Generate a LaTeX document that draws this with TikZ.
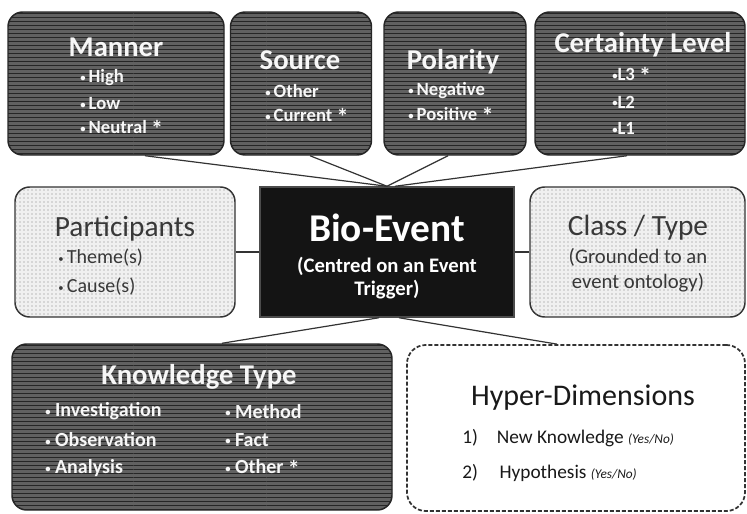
\documentclass[tikz,border=0pt]{standalone}
\usepackage{fontspec}
\setmainfont{Carlito}
\usetikzlibrary{patterns,calc}

\newcommand\starsign{\raisebox{-0.4ex}{\fontsize{18}{18}\selectfont *}}
\newcommand\smallbullet{\raisebox{0.15ex}{\fontsize{8}{8}\selectfont\textbullet}}

\begin{document}
\begin{tikzpicture}[x=0.75pt,y=0.75pt,yscale=-1,xscale=1,
  darkbox/.style={draw=black!85, line width=1.1pt, rounded corners=11pt, fill=black!62,
    postaction={pattern=horizontal lines, pattern color=black!85}, inner sep=0pt},
  lightbox/.style={draw=black!80, line width=1.1pt, rounded corners=11pt, fill=black!6,
    postaction={pattern=dots, pattern color=black!50}, inner sep=0pt},
  biobox/.style={draw=black!70, line width=1.1pt, fill=black!92, inner sep=0pt},
  hyperbox/.style={draw=black!80, line width=1.3pt, dash pattern=on 3pt off 1.5pt, rounded corners=14pt, fill=white, inner sep=0pt},
  darktitle/.style={text=black!3, font=\bfseries\fontsize{21.5}{21.5}\selectfont, inner sep=0pt},
  darkitem/.style={text=black!3, font=\bfseries\fontsize{14}{14}\selectfont, anchor=west, inner sep=0pt},
  lighttitle/.style={text=black!78, font=\fontsize{22}{22}\selectfont, inner sep=0pt},
  lightitem/.style={text=black!78, font=\fontsize{15}{15}\selectfont, anchor=west, inner sep=0pt},
  link/.style={draw=black!80, line width=0.9pt}]

\useasboundingbox (0,0) rectangle (747,514);

% boxes
\node [darkbox, minimum width=162pt, minimum height=107.25pt] (manner) at (116,83.5) {};
\node [darkbox, minimum width=105.75pt, minimum height=107.25pt] (source) at (301,83.5) {};
\node [darkbox, minimum width=106.5pt, minimum height=107.25pt] (polarity) at (455,83.5) {};
\node [darkbox, minimum width=157.5pt, minimum height=107.25pt] (certainty) at (640,83.5) {};
\node [lightbox, minimum width=165pt, minimum height=97.5pt] (participants) at (125,252) {};
\node [biobox, minimum width=190.5pt, minimum height=97.5pt] (bio) at (387,252) {};
\node [lightbox, minimum width=161.25pt, minimum height=97.5pt] (classtype) at (637.5,252) {};
\node [darkbox, minimum width=285pt, minimum height=124.5pt] (knowledge) at (202,427) {};
\node [hyperbox, minimum width=253.5pt, minimum height=124.5pt] (hyper) at (576,428) {};

% links to the event
\draw [link] ($(manner.south)+(29,0)$) -- (bio.north);
\draw [link] ($(source.south)+(9,0)$) -- (bio.north);
\draw [link] ($(polarity.south)+(-7,0)$) -- (bio.north);
\draw [link] ($(certainty.south)+(-13,0)$) -- ($(bio.north)+(8,0)$);
\draw [link] (participants.east) -- (bio.west);
\draw [link] (bio.east) -- (classtype.west);
\draw [link] ($(knowledge.north)+(20,0)$) -- ($(bio.south)+(-8,0)$);
\draw [link] ($(hyper.north)+(-19,0)$) -- ($(bio.south)+(12,0)$);

% Manner
\node [darktitle] (mannertitle) at (116,47) {Manner};
\foreach \t [count=\i] in {High,Low,Neutral \starsign}
  \node [darkitem] (manner-\i) at (80,52.5+25.5*\i) {\smallbullet\,\t};

% Source
\node [darktitle] (sourcetitle) at (300,60) {Source};
\foreach \t [count=\i] in {Other,Current \starsign}
  \node [darkitem] (source-\i) at (265,65+26*\i) {\smallbullet\,\t};

% Polarity
\node [darktitle] (polaritytitle) at (453,62) {Polarity};
\foreach \t [count=\i] in {Negative,Positive \starsign}
  \node [darkitem] (polarity-\i) at (408,66+25*\i) {\smallbullet\,\t};

% Certainty Level
\node [darktitle] (certaintytitle) at (643,45) {Certainty Level};
\foreach \t [count=\i] in {L3 \starsign,L2,L1}
  \node [darkitem] (certainty-\i) at (612,49+26.5*\i) {\smallbullet\t};

% Participants
\node [lighttitle] (participantstitle) at (125,229) {Participants};
\foreach \t [count=\i] in {Theme(s),Cause(s)}
  \node [lightitem] (participants-\i) at (58,229+29*\i) {\smallbullet\,\t};

% Bio-Event
\node [text=white, font=\bfseries\fontsize{29.5}{29.5}\selectfont, inner sep=0pt] (biotitle) at (387,228) {Bio-Event};
\node [text=white, font=\bfseries\fontsize{15.5}{17.5}\selectfont, align=center, inner sep=0pt] (biotext) at (387,278) {(Centred on an Event\\Trigger)};

% Class / Type
\node [lighttitle] (classtitle) at (638,228) {Class / Type};
\node [text=black!78, font=\fontsize{15.5}{18.75}\selectfont, align=center, inner sep=0pt] (classtext) at (638,270) {(Grounded to an\\event ontology)};

% Knowledge Type
\node [darktitle] (knowledgetitle) at (199,377) {Knowledge Type};
\foreach \t [count=\i] in {Investigation,Observation,Analysis}
  \node [darkitem, font=\bfseries\fontsize{15}{15}\selectfont] (knowledge-a\i) at (45,383+28.5*\i) {\smallbullet\ \t};
\foreach \t [count=\i] in {Method,Fact,Other \starsign}
  \node [darkitem, font=\bfseries\fontsize{15}{15}\selectfont] (knowledge-b\i) at (225,383+28.5*\i) {\smallbullet\ \t};

% Hyper-Dimensions
\node [text=black!90, font=\fontsize{22.5}{22.5}\selectfont, inner sep=0pt] (hypertitle) at (583,398) {Hyper-Dimensions};
\node [anchor=west, text=black!90, font=\fontsize{14.5}{14.5}\selectfont, inner sep=0pt] (hyper-1) at (462,438)
  {\makebox[26pt][l]{1)}New Knowledge {\itshape\fontsize{10}{10}\selectfont(Yes/No)}};
\node [anchor=west, text=black!90, font=\fontsize{14.5}{14.5}\selectfont, inner sep=0pt] (hyper-2) at (462,473)
  {\makebox[28pt][l]{2)}Hypothesis {\itshape\fontsize{10}{10}\selectfont(Yes/No)}};
\end{tikzpicture}
\end{document}
